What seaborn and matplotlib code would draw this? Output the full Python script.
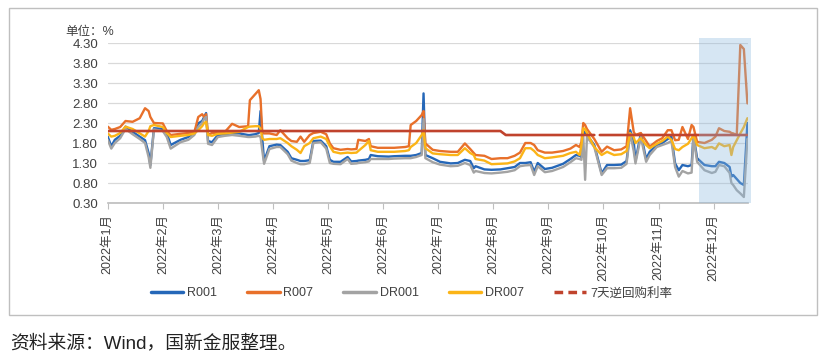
import matplotlib
matplotlib.use('Agg')
import matplotlib.pyplot as plt
from matplotlib.lines import Line2D
from matplotlib.patches import Rectangle
import pandas as pd
import numpy as np
import seaborn as sns

dates = [
    '2022-01-01', '2022-01-03', '2022-01-05', '2022-01-08', '2022-01-11', '2022-01-15', '2022-01-19', '2022-01-22', '2022-01-24', '2022-01-25', '2022-01-27',
    '2022-02-01', '2022-02-03', '2022-02-05', '2022-02-10', '2022-02-14', '2022-02-17', '2022-02-19', '2022-02-21', '2022-02-22', '2022-02-23', '2022-02-24', '2022-02-26',
    '2022-03-01', '2022-03-05', '2022-03-09', '2022-03-13', '2022-03-18', '2022-03-19', '2022-03-22', '2022-03-24', '2022-03-25', '2022-03-26', '2022-03-27', '2022-03-30',
    '2022-04-03', '2022-04-05', '2022-04-09', '2022-04-11', '2022-04-14', '2022-04-16', '2022-04-18', '2022-04-21', '2022-04-23', '2022-04-27', '2022-04-30',
    '2022-05-02', '2022-05-04', '2022-05-08', '2022-05-12', '2022-05-14', '2022-05-17', '2022-05-18', '2022-05-22', '2022-05-24', '2022-05-25', '2022-05-29',
    '2022-06-04', '2022-06-07', '2022-06-13', '2022-06-15', '2022-06-16', '2022-06-19', '2022-06-22', '2022-06-23', '2022-06-24', '2022-06-28',
    '2022-07-02', '2022-07-08', '2022-07-12', '2022-07-16', '2022-07-19', '2022-07-21', '2022-07-22', '2022-07-27', '2022-07-31',
    '2022-08-05', '2022-08-09', '2022-08-13', '2022-08-16', '2022-08-19', '2022-08-22', '2022-08-24', '2022-08-26', '2022-08-30',
    '2022-09-03', '2022-09-09', '2022-09-13', '2022-09-16', '2022-09-18', '2022-09-19', '2022-09-20', '2022-09-21', '2022-09-22', '2022-09-26', '2022-09-30',
    '2022-10-03', '2022-10-07', '2022-10-11', '2022-10-14', '2022-10-16', '2022-10-18', '2022-10-19', '2022-10-22', '2022-10-25', '2022-10-27', '2022-10-31',
    '2022-11-03', '2022-11-06', '2022-11-08', '2022-11-10', '2022-11-12', '2022-11-14', '2022-11-17', '2022-11-19', '2022-11-20', '2022-11-22', '2022-11-26', '2022-11-30',
    '2022-12-02', '2022-12-04', '2022-12-07', '2022-12-10', '2022-12-11', '2022-12-12', '2022-12-14', '2022-12-16', '2022-12-18', '2022-12-20',
]

r001 = [1.96, 1.72, 1.88, 1.98, 2.21, 2.08, 1.96, 1.87, 1.55, 1.25, 2.17,
        2.15, 2.05, 1.75, 1.88, 1.95, 2.08, 2.29, 2.35, 2.45, 2.55, 1.85, 1.82,
        2.00, 2.02, 2.04, 2.04, 2.00, 2.00, 2.02, 2.05, 2.60, 1.90, 1.35, 1.72,
        1.76, 1.75, 1.58, 1.42, 1.38, 1.35, 1.35, 1.37, 1.85, 1.86, 1.72,
        1.38, 1.33, 1.33, 1.45, 1.34, 1.35, 1.36, 1.38, 1.40, 1.50, 1.47,
        1.46, 1.47, 1.48, 1.48, 1.48, 1.50, 1.55, 3.04, 1.50, 1.42,
        1.33, 1.29, 1.30, 1.38, 1.35, 1.17, 1.22, 1.14, 1.13,
        1.14, 1.17, 1.20, 1.30, 1.30, 1.32, 1.08, 1.30, 1.15,
        1.18, 1.28, 1.40, 1.50, 1.48, 1.45, 2.10, 2.05, 2.00, 1.75, 1.04,
        1.25, 1.25, 1.26, 1.35, 2.12, 1.85, 1.35, 2.04, 1.40, 1.58, 1.75,
        1.80, 1.90, 1.96, 1.29, 1.12, 1.25, 1.22, 1.25, 2.00, 1.42, 1.25, 1.22,
        1.22, 1.33, 1.30, 1.20, 0.96, 1.00, 0.90, 0.80, 0.75, 2.30]

r007 = [2.21, 2.13, 2.15, 2.20, 2.35, 2.33, 2.42, 2.67, 2.60, 2.45, 2.30,
        2.29, 2.10, 2.00, 2.03, 2.05, 2.06, 2.45, 2.52, 2.45, 2.52, 2.00, 2.05,
        2.06, 2.08, 2.28, 2.20, 2.22, 2.87, 3.02, 3.12, 2.90, 2.05, 2.04, 2.04,
        2.00, 2.12, 1.92, 1.85, 1.83, 1.96, 1.83, 2.00, 2.05, 2.08, 2.02,
        1.79, 1.67, 1.63, 1.65, 1.64, 1.65, 1.88, 1.85, 1.90, 1.72, 1.68,
        1.68, 1.68, 1.70, 1.72, 2.25, 2.35, 2.50, 2.60, 1.79, 1.63,
        1.60, 1.58, 1.58, 1.79, 1.65, 1.55, 1.50, 1.48, 1.40,
        1.42, 1.42, 1.48, 1.56, 1.80, 1.80, 1.75, 1.62, 1.56,
        1.56, 1.60, 1.66, 1.75, 1.70, 1.83, 2.30, 2.25, 2.15, 1.90, 1.58,
        1.71, 1.62, 1.64, 1.72, 2.67, 2.08, 2.00, 2.05, 1.85, 1.71, 1.85,
        1.92, 2.12, 2.12, 1.87, 1.88, 2.20, 1.90, 2.25, 2.20, 1.83, 1.80, 1.88,
        1.96, 2.17, 2.10, 2.08, 2.05, 2.04, 2.00, 4.25, 4.15, 2.79]

dr001 = [1.88, 1.66, 1.80, 1.92, 2.15, 2.02, 1.90, 1.80, 1.45, 1.18, 2.14,
         2.10, 1.95, 1.66, 1.82, 1.88, 2.00, 2.20, 2.30, 2.40, 2.45, 1.78, 1.75,
         1.95, 1.98, 2.00, 1.98, 1.95, 1.95, 1.96, 1.98, 1.95, 1.60, 1.28, 1.65,
         1.70, 1.70, 1.52, 1.36, 1.30, 1.27, 1.27, 1.30, 1.80, 1.82, 1.66,
         1.30, 1.28, 1.27, 1.40, 1.28, 1.29, 1.30, 1.32, 1.34, 1.40, 1.40,
         1.40, 1.41, 1.42, 1.42, 1.42, 1.45, 1.50, 2.40, 1.42, 1.32,
         1.26, 1.22, 1.23, 1.30, 1.25, 1.06, 1.10, 1.05, 1.04,
         1.06, 1.08, 1.12, 1.22, 1.24, 1.25, 1.00, 1.22, 1.07,
         1.10, 1.20, 1.32, 1.42, 1.40, 1.38, 1.95, 0.88, 1.95, 1.70, 1.00,
         1.17, 1.17, 1.18, 1.28, 2.05, 1.60, 1.29, 1.95, 1.33, 1.50, 1.70,
         1.75, 1.80, 1.85, 1.20, 0.96, 1.10, 1.04, 1.06, 1.95, 1.33, 1.12, 1.05,
         1.08, 1.25, 1.22, 1.05, 0.80, 0.75, 0.62, 0.54, 0.45, 1.90]

dr007 = [2.04, 1.96, 1.98, 2.05, 2.21, 2.15, 2.04, 1.96, 2.10, 2.22, 2.25,
         2.20, 2.05, 1.95, 1.98, 2.00, 2.04, 2.12, 2.22, 2.30, 2.33, 2.00, 1.98,
         2.03, 2.04, 2.06, 2.08, 2.20, 2.21, 2.22, 2.22, 2.15, 1.92, 1.88, 1.90,
         1.90, 1.92, 1.80, 1.72, 1.63, 1.55, 1.72, 1.80, 1.92, 1.96, 1.90,
         1.72, 1.58, 1.54, 1.56, 1.55, 1.56, 1.60, 1.75, 1.85, 1.62, 1.58,
         1.58, 1.58, 1.60, 1.62, 1.70, 1.80, 2.00, 2.12, 1.67, 1.54,
         1.52, 1.50, 1.50, 1.67, 1.55, 1.50, 1.40, 1.36, 1.27,
         1.28, 1.29, 1.34, 1.42, 1.67, 1.67, 1.60, 1.50, 1.42,
         1.44, 1.48, 1.55, 1.58, 1.50, 1.75, 2.17, 2.15, 2.05, 1.70, 1.50,
         1.58, 1.50, 1.52, 1.60, 2.04, 1.95, 1.80, 1.92, 1.75, 1.67, 1.78,
         1.85, 1.96, 1.88, 1.65, 1.62, 1.70, 1.78, 1.92, 2.00, 1.75, 1.67, 1.70,
         1.65, 1.79, 1.72, 1.75, 1.50, 1.70, 1.87, 2.04, 2.20, 2.42]

# 7-day reverse repo rate (gap around end of September as in the source)
repo_dates = ['2022-01-01', '2022-08-05', '2022-08-08', '2022-09-26', '2022-09-27', '2022-09-29', '2022-12-20']
repo_rate = [2.10, 2.10, 2.00, 2.00, np.nan, 2.00, 2.00]

highlight = ['2022-11-23', '2022-12-22']
month_labels = ['2022年%d月' % i for i in range(1, 13)]
y_ticks = [0.30, 0.80, 1.30, 1.80, 2.30, 2.80, 3.30, 3.80, 4.30]

series_names = ['R001', 'R007', 'DR001', 'DR007']
colors = {'R001': '#2567b8', 'R007': '#e8702a', 'DR001': '#a3a3a3', 'DR007': '#fbb417'}
repo_color = '#c0432d'


def month_pos(ds):
    # each month gets the same width on the axis
    d = pd.to_datetime(pd.Series(ds))
    return ((d.dt.month - 1) + (d.dt.day - 1) / d.dt.days_in_month).to_numpy()


sns.set_theme(style='white')
plt.rcParams['font.family'] = ['Liberation Sans', 'Noto Sans CJK SC', 'DejaVu Sans']
plt.rcParams['axes.unicode_minus'] = False

x = month_pos(dates)
df = pd.concat([pd.DataFrame({'x': x, 'value': v, 'series': n})
                for n, v in zip(series_names, [r001, r007, dr001, dr007])])

fig = plt.figure(figsize=(8.23, 3.62), dpi=100)
ax = fig.add_axes([0.1309, 0.4392, 0.7784, 0.4420])

sns.lineplot(data=df, x='x', y='value', hue='series', hue_order=series_names,
             palette=colors, estimator=None, linewidth=1.7, legend=False, ax=ax)
ax.plot(month_pos(repo_dates), repo_rate, color=repo_color, linewidth=1.9, zorder=3)

# shaded box over December
hx = month_pos(highlight)
ax.add_patch(Rectangle((hx[0], 0.30), hx[1] - hx[0], 4.13, facecolor='#8cb9de',
                       alpha=0.35, edgecolor='none', clip_on=False, zorder=5))

ax.set_xlim(0, 11.63)
ax.set_ylim(0.30, 4.30)
ax.set_yticks(y_ticks)
ax.set_yticklabels(['%.2f' % t for t in y_ticks], fontsize=9.5, color='#404040')
ax.set_xticks(range(12))
ax.set_xticklabels(month_labels, rotation=90, fontsize=9, color='#404040')
ax.tick_params(axis='x', direction='out', length=4, width=0.8, color='#bfbfbf', pad=4, bottom=True)
ax.tick_params(axis='y', length=0, pad=7)
ax.grid(axis='y', color='#d9d9d9', linewidth=0.9)
ax.grid(axis='x', visible=False)
ax.set_axisbelow(True)
for s in ['top', 'right', 'left']:
    ax.spines[s].set_visible(False)
ax.spines['bottom'].set_color('#bfbfbf')
ax.set_xlabel('')
ax.set_ylabel('')

fig.text(0.079, 0.912, '单位：%', fontsize=9, color='#404040', va='center')

handles = [Line2D([], [], color=colors[n], linewidth=2.5) for n in series_names]
handles.append(Line2D([], [], color=repo_color, linewidth=2.5, linestyle=(0, (2.5, 1.5))))
fig.legend(handles, series_names + ['7天逆回购利率'], loc='center', bbox_to_anchor=(0.5, 0.19),
           ncol=5, frameon=False, fontsize=9, handlelength=2.6, handletextpad=0.3,
           columnspacing=2.4, labelcolor='#404040')

# outer frame
fig.add_artist(Rectangle((9 / 823, 1 - 315 / 362), 808 / 823, 307 / 362, transform=fig.transFigure,
                         fill=False, edgecolor='#bfbfbf', linewidth=1))

fig.text(0.012, 0.052, '资料来源：Wind，国新金服整理。', fontsize=13.5, color='#222222', va='center')

fig.savefig('out.png', dpi=100)
